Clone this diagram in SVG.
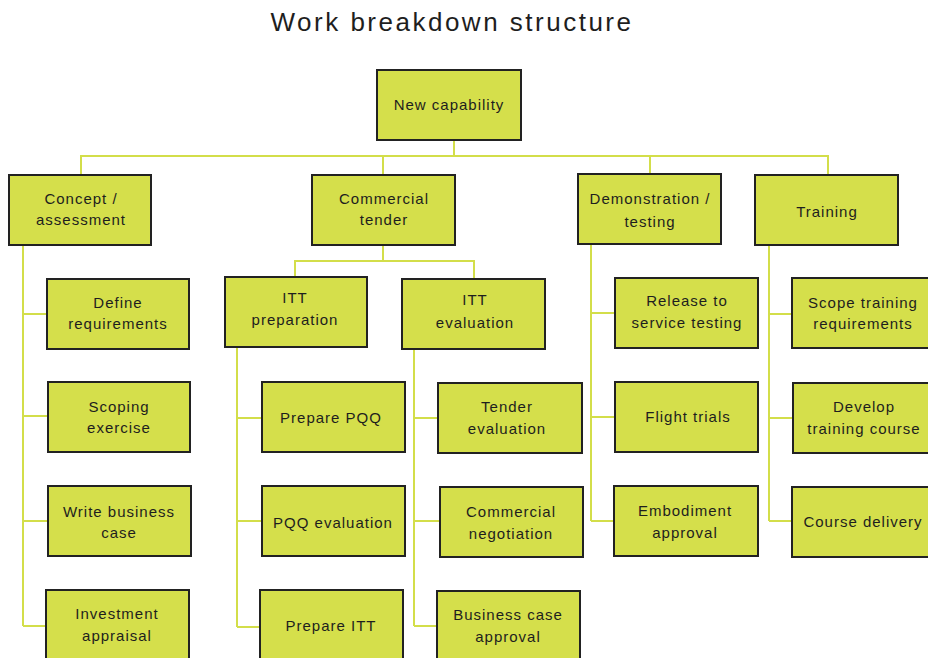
<svg xmlns="http://www.w3.org/2000/svg" width="928" height="658" viewBox="0 0 928 658">
<style>
.bg{fill:#ffffff}
.box{fill:#d5df4b;stroke:#222222;stroke-width:2}
.inner{fill:none;stroke:#f4f6e0;stroke-width:1}
.lbl{font-family:"Liberation Sans",Arial,sans-serif;font-size:15px;letter-spacing:1px;fill:#1e1e1e;text-anchor:middle}
.title{font-family:"Liberation Sans",Arial,sans-serif;font-size:26px;letter-spacing:2.5px;fill:#1e1e1e;text-anchor:middle}
.conn{fill:none;stroke:#d3de4a;stroke-width:2}
</style>
<rect class="bg" x="0" y="0" width="928" height="658"/>
<text class="title" x="452" y="31">Work breakdown structure</text>

<g id="connectors">
<path class="conn" d="M454 140 V156 M81 175 V156 H828 V175 M383 156 V175 M650 156 V174"/>
<path class="conn" d="M23 245 V626 M23 314 H47 M23 416 H48 M23 521 H48 M23 626 H46"/>
<path class="conn" d="M383 245 V261 M295 277 V261 H474 V279"/>
<path class="conn" d="M237 347 V627 M237 418 H262 M237 521 H262 M237 627 H260"/>
<path class="conn" d="M414 349 V626 M414 418 H438 M414 521 H440 M414 626 H437"/>
<path class="conn" d="M591 244 V521 M591 313 H615 M591 417 H615 M591 521 H614"/>
<path class="conn" d="M769 245 V521 M769 314 H792 M769 418 H793 M769 521 H792"/>
</g>

<g id="n-root"><rect class="box" x="377" y="70" width="144" height="70"/><text class="lbl" x="449" y="110">New capability</text></g>

<g id="n-concept"><rect class="box" x="9" y="175" width="142" height="70"/><text class="lbl" x="81" y="204">Concept /</text><text class="lbl" x="81" y="225">assessment</text></g>
<g id="n-commercial"><rect class="box" x="312" y="175" width="143" height="70"/><text class="lbl" x="384" y="204">Commercial</text><text class="lbl" x="384" y="225">tender</text></g>
<g id="n-demo"><rect class="box" x="578" y="174" width="143" height="70"/><text class="lbl" x="650" y="204">Demonstration /</text><text class="lbl" x="650" y="227">testing</text></g>
<g id="n-training"><rect class="box" x="755" y="175" width="143" height="70"/><text class="lbl" x="827" y="217">Training</text></g>

<g id="n-define"><rect class="box" x="47" y="279" width="142" height="70"/><text class="lbl" x="118" y="308">Define</text><text class="lbl" x="118" y="329">requirements</text></g>
<g id="n-scoping"><rect class="box" x="48" y="382" width="142" height="70"/><text class="lbl" x="119" y="412">Scoping</text><text class="lbl" x="119" y="433">exercise</text></g>
<g id="n-writebc"><rect class="box" x="48" y="486" width="143" height="70"/><text class="lbl" x="119" y="517">Write business</text><text class="lbl" x="119" y="538">case</text></g>
<g id="n-invest"><rect class="box" x="46" y="590" width="143" height="70"/><text class="lbl" x="117" y="619">Investment</text><text class="lbl" x="117" y="641">appraisal</text></g>

<g id="n-ittprep"><rect class="box" x="225" y="277" width="142" height="70"/><text class="lbl" x="295" y="303">ITT</text><text class="lbl" x="295" y="325">preparation</text></g>
<g id="n-itteval"><rect class="box" x="402" y="279" width="143" height="70"/><text class="lbl" x="475" y="305">ITT</text><text class="lbl" x="475" y="328">evaluation</text></g>

<g id="n-preppqq"><rect class="box" x="262" y="382" width="143" height="70"/><text class="lbl" x="331" y="423">Prepare PQQ</text></g>
<g id="n-pqqeval"><rect class="box" x="262" y="486" width="143" height="70"/><text class="lbl" x="333" y="528">PQQ evaluation</text></g>
<g id="n-prepitt"><rect class="box" x="260" y="590" width="143" height="70"/><text class="lbl" x="331" y="631">Prepare ITT</text></g>

<g id="n-tendereval"><rect class="box" x="438" y="383" width="144" height="70"/><text class="lbl" x="507" y="412">Tender</text><text class="lbl" x="507" y="434">evaluation</text></g>
<g id="n-commneg"><rect class="box" x="440" y="487" width="143" height="70"/><text class="lbl" x="511" y="517">Commercial</text><text class="lbl" x="511" y="539">negotiation</text></g>
<g id="n-bcapproval"><rect class="box" x="437" y="591" width="143" height="70"/><text class="lbl" x="508" y="620">Business case</text><text class="lbl" x="508" y="642">approval</text></g>

<g id="n-release"><rect class="box" x="615" y="278" width="143" height="70"/><text class="lbl" x="687" y="306">Release to</text><text class="lbl" x="687" y="328">service testing</text></g>
<g id="n-flight"><rect class="box" x="615" y="382" width="143" height="70"/><text class="lbl" x="688" y="422">Flight trials</text></g>
<g id="n-embod"><rect class="box" x="614" y="486" width="144" height="70"/><text class="lbl" x="685" y="516">Embodiment</text><text class="lbl" x="685" y="538">approval</text></g>

<g id="n-scopetr"><rect class="box" x="792" y="278" width="143" height="70"/><text class="lbl" x="863" y="308">Scope training</text><text class="lbl" x="863" y="329">requirements</text></g>
<g id="n-develop"><rect class="box" x="793" y="383" width="143" height="70"/><text class="lbl" x="864" y="412">Develop</text><text class="lbl" x="864" y="434">training course</text></g>
<g id="n-delivery"><rect class="box" x="792" y="487" width="143" height="70"/><text class="lbl" x="863" y="527">Course delivery</text></g>
</svg>
